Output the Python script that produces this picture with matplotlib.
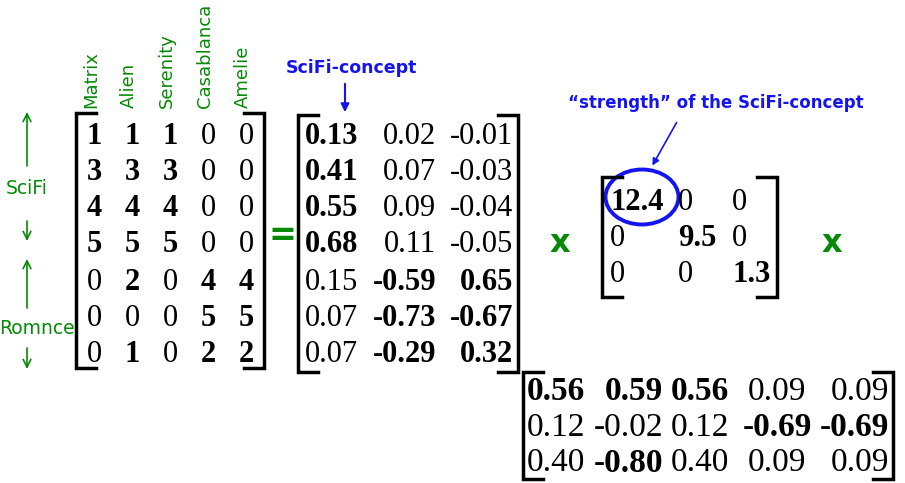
import matplotlib
matplotlib.use("Agg")
import matplotlib.pyplot as plt
from matplotlib.patches import Ellipse

# data
movies = ["Matrix", "Alien", "Serenity", "Casablanca", "Amelie"]
ratings = [[1, 1, 1, 0, 0],
           [3, 3, 3, 0, 0],
           [4, 4, 4, 0, 0],
           [5, 5, 5, 0, 0],
           [0, 2, 0, 4, 4],
           [0, 0, 0, 5, 5],
           [0, 1, 0, 2, 2]]
u_vals = [[0.13, 0.02, -0.01],
          [0.41, 0.07, -0.03],
          [0.55, 0.09, -0.04],
          [0.68, 0.11, -0.05],
          [0.15, -0.59, 0.65],
          [0.07, -0.73, -0.67],
          [0.07, -0.29, 0.32]]
u_bold = [[1, 0, 0], [1, 0, 0], [1, 0, 0], [1, 0, 0],
          [0, 1, 1], [0, 1, 1], [0, 1, 1]]
sigma = [12.4, 9.5, 1.3]
vt_vals = [[0.56, 0.59, 0.56, 0.09, 0.09],
           [0.12, -0.02, 0.12, -0.69, -0.69],
           [0.40, -0.80, 0.40, 0.09, 0.09]]
vt_bold = [[1, 1, 1, 0, 0],
           [0, 0, 0, 1, 1],
           [0, 1, 0, 0, 0]]

GREEN = "#058a05"
BLUE = "#1414f0"
SERIF = "Liberation Serif"

fig = plt.figure(figsize=(9.05, 4.83), dpi=100)
ax = fig.add_axes([0, 0, 1, 1])
ax.set_xlim(0, 905)
ax.set_ylim(483, 0)
ax.axis("off")


def bracket(x0, x1, top, bot, serif=20):
    ax.plot([x0 + serif, x0, x0, x0 + serif], [top, top, bot, bot], color="black", lw=2.5,
            solid_joinstyle="miter")
    ax.plot([x1 - serif, x1, x1, x1 - serif], [top, top, bot, bot], color="black", lw=2.5,
            solid_joinstyle="miter")


def num(x, y, s, bold, ha="center", size=22):
    ax.text(x, y, s, ha=ha, va="center", fontsize=size, family=SERIF,
            fontweight="bold" if bold else "normal")


rows = [137, 172, 208, 245, 282, 318, 354]

# ratings matrix
a_cols = [94, 132, 170, 208, 246]
for r, row in enumerate(ratings):
    for c, v in enumerate(row):
        num(a_cols[c], rows[r], str(v), v != 0)
bracket(76, 264, 113, 368)
for c, name in enumerate(movies):
    ax.text(a_cols[c] - 3, 108, name, rotation=90, ha="center", va="bottom",
            fontsize=13, color=GREEN)

# side labels with arrows
arr = dict(arrowstyle="->", color=GREEN, lw=1.2, mutation_scale=14, shrinkA=0, shrinkB=0)
ax.annotate("", xy=(27, 112), xytext=(27, 166), arrowprops=arr)
ax.text(27, 188, "SciFi", ha="center", va="center", fontsize=13.5, color=GREEN)
ax.annotate("", xy=(27, 241), xytext=(27, 221), arrowprops=arr)
ax.annotate("", xy=(27, 259), xytext=(27, 308), arrowprops=arr)
ax.text(37, 328, "Romnce", ha="center", va="center", fontsize=13.5, color=GREEN)
ax.annotate("", xy=(27, 369), xytext=(27, 348), arrowprops=arr)

ax.text(282, 236, "=", ha="center", va="center", fontsize=24, fontweight="bold", color=GREEN)

# U matrix
for r, row in enumerate(u_vals):
    num(305, rows[r], "%.2f" % row[0], u_bold[r][0], ha="left")
    num(436, rows[r], "%.2f" % row[1], u_bold[r][1], ha="right")
    num(513, rows[r], "%.2f" % row[2], u_bold[r][2], ha="right")
bracket(298, 518, 115, 372)
ax.text(351, 68, "SciFi-concept", ha="center", va="center", fontsize=12.5,
        fontweight="bold", color=BLUE)
ax.annotate("", xy=(345, 115), xytext=(345, 81),
            arrowprops=dict(arrowstyle="-|>", color=BLUE, lw=1.5, mutation_scale=12))

ax.text(560, 243, "x", ha="center", va="center", fontsize=23, fontweight="bold", color=GREEN)

# Sigma matrix
s_rows = [202, 238, 275]
s_cols = [610, 678, 732]
for r in range(3):
    for c in range(3):
        if r == c:
            num(s_cols[c], s_rows[r], "%.1f" % sigma[r], True, ha="left")
        else:
            num(s_cols[c], s_rows[r], "0", False, ha="left")
bracket(602, 777, 177, 297)
ax.add_patch(Ellipse((642, 197), 73, 55, fill=False, edgecolor=BLUE, lw=2.8))
ax.text(716, 103, "\u201cstrength\u201d of the SciFi-concept", ha="center", va="center",
        fontsize=12, fontweight="bold", color=BLUE)
ax.annotate("", xy=(651, 168), xytext=(678, 120),
            arrowprops=dict(arrowstyle="-|>", color=BLUE, lw=1.2, mutation_scale=10))

ax.text(832, 243, "x", ha="center", va="center", fontsize=23, fontweight="bold", color=GREEN)

# V^T matrix
v_rows = [392, 428, 463]
for r, row in enumerate(vt_vals):
    b = vt_bold[r]
    num(527, v_rows[r], "%.2f" % row[0], b[0], ha="left", size=24)
    num(663, v_rows[r], "%.2f" % row[1], b[1], ha="right", size=24)
    num(671, v_rows[r], "%.2f" % row[2], b[2], ha="left", size=24)
    num(777, v_rows[r], "%.2f" % row[3], b[3], ha="center", size=24)
    num(889, v_rows[r], "%.2f" % row[4], b[4], ha="right", size=24)
bracket(523, 893, 372, 479)

fig.savefig("out.png", dpi=100)
